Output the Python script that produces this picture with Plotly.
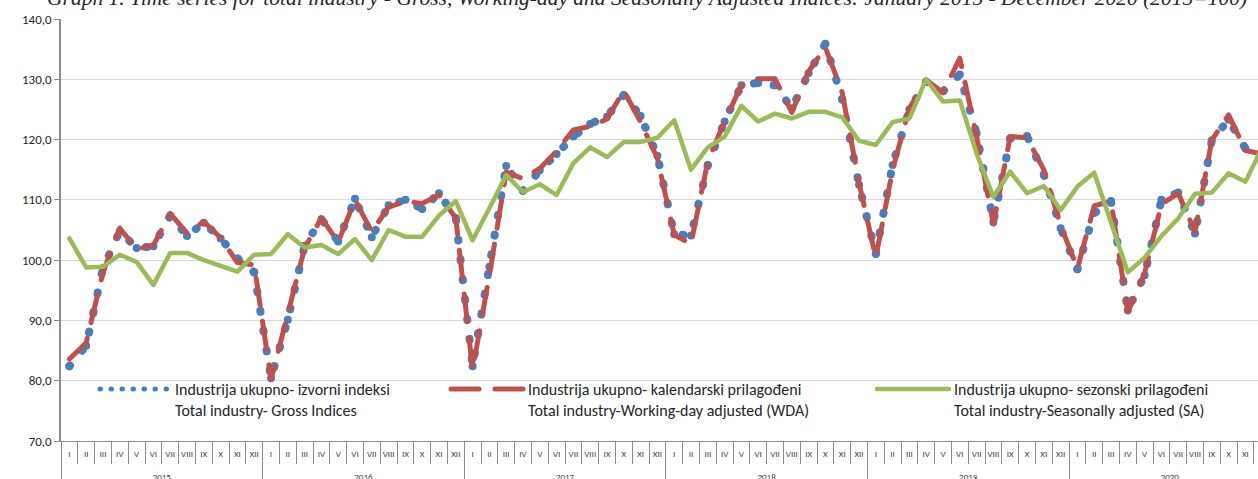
import plotly.graph_objects as go

# ---------------- data ----------------
years = ["2015", "2016", "2017", "2018", "2019", "2020"]
months = ["I", "II", "III", "IV", "V", "VI", "VII", "VIII", "IX", "X", "XI", "XII"]

gross = [
    82.4, 85.8, 98.7, 104.8, 102.0, 102.3, 107.4, 104.0, 106.2, 103.6, 100.3, 98.0,
    80.4, 90.1, 102.4, 106.8, 103.1, 110.2, 103.8, 109.1, 110.0, 108.5, 111.1, 107.0,
    82.4, 98.9, 115.6, 111.5, 114.9, 117.6, 120.5, 122.6, 123.8, 127.4, 123.9, 117.3,
    104.3, 104.1, 115.8, 123.0, 129.0, 129.4, 129.0, 125.2, 131.0, 135.9, 126.7, 112.5,
    101.0, 115.8, 125.0, 129.6, 128.0, 130.8, 121.0, 106.3, 120.2, 120.6, 114.2, 105.3,
    98.5, 107.8, 109.8, 91.7, 97.5, 110.0, 111.2, 104.4, 119.9, 123.3, 118.5, 117.8,
]
wda = [
    83.6, 86.3, 98.0, 105.3, 101.8, 102.5, 107.7, 104.5, 106.4, 103.7, 99.6, 99.2,
    80.2, 91.0, 102.0, 107.0, 103.0, 110.0, 104.7, 108.8, 109.7, 109.4, 110.8, 107.0,
    81.8, 97.5, 114.6, 113.5, 115.2, 118.1, 121.6, 122.2, 123.4, 128.1, 122.9, 116.9,
    104.2, 102.7, 116.4, 123.0, 129.0, 130.1, 130.1, 124.5, 131.3, 135.3, 127.8, 112.8,
    100.4, 115.0, 125.2, 129.9, 127.8, 133.5, 120.5, 106.0, 120.5, 120.3, 115.0, 105.8,
    98.6, 109.0, 109.8, 91.4, 97.8, 109.3, 111.1, 104.7, 119.9, 124.1, 118.2, 117.6,
]
sa = [
    103.6, 98.8, 98.9, 100.9, 99.7, 95.9, 101.2, 101.2, 100.0, 99.0, 98.1, 100.9,
    101.0, 104.3, 102.1, 102.5, 101.0, 103.5, 100.0, 105.0, 103.9, 103.9, 107.4, 109.8,
    103.3, 108.6, 114.1, 111.3, 112.6, 110.8, 116.1, 118.7, 117.1, 119.6, 119.6, 120.3,
    123.2, 115.0, 118.7, 120.5, 125.6, 123.0, 124.3, 123.5, 124.6, 124.6, 123.7, 119.8,
    119.1, 122.9, 123.5, 130.0, 126.3, 126.5, 117.7, 110.5, 114.7, 111.1, 112.3, 108.3,
    112.2, 114.5, 106.0, 98.0, 100.4, 104.0, 106.9, 111.0, 111.2, 114.4, 113.0, 118.7,
]

series_names = [
    "Industrija ukupno- izvorni indeksi<br>Total industry- Gross Indices",
    "Industrija ukupno- kalendarski prilagođeni<br>Total industry-Working-day adjusted (WDA)",
    "Industrija ukupno- sezonski prilagođeni<br>Total industry-Seasonally adjusted (SA)",
]
title_text = ("Graph 1. Time series for total industry - Gross, Working-day and Seasonally "
              "Adjusted Indices: January 2015 - December 2020 (2015=100)")

# ---------------- styling ----------------
BLUE = "#4a7ebb"
RED = "#c0504d"
GREEN = "#9bbb59"
GRID = "#d9d9d9"
AXIS = "#8c8c8c"
TXT = "#262626"
FONT = "Carlito, Lato, sans-serif"

n = len(years) * len(months)
idx = list(range(n))
month_labels = months * len(years)

W, H = 1258, 479
ML, MR, MT, MB = 61, 0, 19, 38
PW, PH = W - ML - MR, H - MT - MB
XR = [-0.5, -0.5 + PW / 16.8]


def px_x(p):
    return (p - ML) / PW


def px_y(p):
    return (H - MB - p) / PH


fig = go.Figure()
fig.add_trace(go.Scatter(
    x=idx, y=gross, mode="lines+markers", name=series_names[0], legend="legend",
    line=dict(color=BLUE, width=8, dash="1px,19px"),
    marker=dict(size=8, color=BLUE), hoverinfo="skip"))
fig.add_trace(go.Scatter(
    x=idx, y=wda, mode="lines", name=series_names[1], legend="legend2",
    line=dict(color=RED, width=5, dash="28px,16px"), hoverinfo="skip"))
fig.add_trace(go.Scatter(
    x=idx, y=sa, mode="lines", name=series_names[2], legend="legend3",
    line=dict(color=GREEN, width=4.5), hoverinfo="skip"))

# empty helper traces so the overlaying tick-only axes get drawn
for ax in ("x2", "x3", "x4"):
    fig.add_trace(go.Scatter(x=[None], y=[None], xaxis=ax, yaxis="y", mode="lines",
                             showlegend=False, hoverinfo="skip"))

common_x = dict(range=XR, showgrid=False, zeroline=False, fixedrange=True,
                tickmode="array", automargin=False)

leg_common = dict(orientation="h", bgcolor="rgba(0,0,0,0)", borderwidth=0,
                  font=dict(family=FONT, size=16, color=TXT), valign="top",
                  xanchor="left", yanchor="top", itemclick=False, itemdoubleclick=False,
                  visible=True)

fig.update_layout(
    width=W, height=H,
    margin=dict(l=ML, r=MR, t=MT, b=MB, pad=0, autoexpand=False),
    paper_bgcolor="white", plot_bgcolor="white",
    separators=",.",
    showlegend=True,
    font=dict(family=FONT, color=TXT),
    xaxis=dict(**common_x, tickvals=idx, ticktext=month_labels, ticks="outside",
               ticklen=4, tickcolor="rgba(0,0,0,0)", tickangle=0,
               tickfont=dict(size=9, color="#404040", family=FONT),
               showline=True, linecolor=AXIS, linewidth=1),
    xaxis2=dict(**common_x, overlaying="x", anchor="y", side="bottom",
                tickvals=[k - 0.5 for k in range(1, n) if k % 12],
                ticks="outside", ticklen=22, tickcolor=AXIS, tickwidth=1,
                showticklabels=False, showline=False),
    xaxis3=dict(**common_x, overlaying="x", anchor="y", side="bottom",
                tickvals=[k - 0.5 for k in range(0, n + 1, 12)],
                ticks="outside", ticklen=38, tickcolor=AXIS, tickwidth=1,
                showticklabels=False, showline=False),
    xaxis4=dict(**common_x, overlaying="x", anchor="y", side="bottom",
                tickvals=[i * 12 + 5.5 for i in range(len(years))], ticktext=years,
                ticks="outside", ticklen=27, tickcolor="rgba(0,0,0,0)", tickangle=0,
                tickfont=dict(size=9, color="#404040", family=FONT), showline=False),
    yaxis=dict(range=[70, 140], tick0=70, dtick=10, tickformat=".1f",
               ticks="outside", ticklen=5, tickcolor=AXIS, showline=True,
               linecolor=AXIS, linewidth=1.5, gridcolor=GRID, gridwidth=1,
               zeroline=False, fixedrange=True, automargin=False,
               tickfont=dict(size=13, color=TXT, family=FONT)),
    legend=dict(**leg_common, x=px_x(95), y=px_y(372), itemwidth=70),
    legend2=dict(**leg_common, x=px_x(446), y=px_y(372), itemwidth=72),
    legend3=dict(**leg_common, x=px_x(872), y=px_y(372), itemwidth=72),
)

fig.add_annotation(
    text="<i>" + title_text + "</i>", xref="paper", yref="paper",
    x=px_x(647), y=px_y(12), xanchor="center", yanchor="bottom", showarrow=False,
    font=dict(family="Liberation Serif", size=21.5, color=TXT))

post = """
document.body.style.margin='0';
var s=document.createElement('style');
s.textContent='.scatterlayer path.js-line{stroke-linecap:round;stroke-linejoin:round;}'
 + ' g.legend path.js-line{stroke-linecap:round;stroke-width:5px !important;stroke-dasharray:0.5px,10.5px !important;}'
 + ' g.legend path.scatterpts{display:none;}'
 + ' g.legend2 path.js-line, g.legend3 path.js-line{stroke-linecap:round;}';
document.head.appendChild(s);
"""
fig.write_html("out.html", post_script=post, config={"displayModeBar": False})
